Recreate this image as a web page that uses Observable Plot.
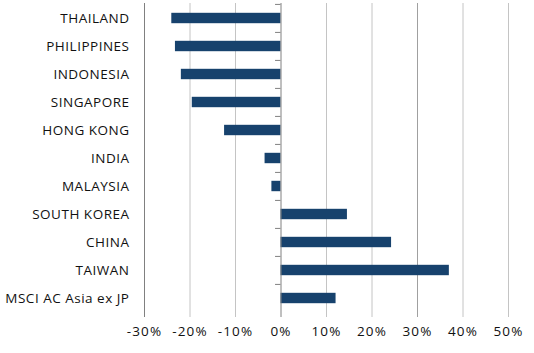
<!DOCTYPE html>
<html>
<head>
<meta charset="utf-8">
<script src="https://cdn.jsdelivr.net/npm/d3@7"></script>
<script src="https://cdn.jsdelivr.net/npm/@observablehq/plot@0.6"></script>
<style>
  html, body { margin: 0; padding: 0; background: #fff; }
  #chart svg { display: block; }
  #chart svg text { letter-spacing: 0.5px; }
  #chart svg g.xlab text { letter-spacing: 1.1px; }
</style>
</head>
<body>
<div id="chart"></div>
<script>
const categories = ["THAILAND", "PHILIPPINES", "INDONESIA", "SINGAPORE", "HONG KONG", "INDIA", "MALAYSIA", "SOUTH KOREA", "CHINA", "TAIWAN", "MSCI AC Asia ex JP"];
const values = [-24.0, -23.2, -21.9, -19.5, -12.4, -3.5, -2.0, 14.6, 24.3, 37.0, 12.1];
const xTicks = [-30, -20, -10, 0, 10, 20, 30, 40, 50];
const lightGrid = [-20, -10, 10, 20, 40, 50];
const darkGrid = [30];

const data = categories.map((c, i) => ({category: c, value: values[i]}));

const width = 534, height = 353;
const marginTop = 3, marginBottom = 40, marginLeft = 144, marginRight = 26;
const step = (height - marginTop - marginBottom) / categories.length;
const font = "'Open Sans', sans-serif";

const chart = Plot.plot({
  width, height, marginTop, marginBottom, marginLeft, marginRight,
  style: {fontFamily: font, fontSize: "13.5px", color: "#111", background: "#fff"},
  x: {domain: [-30, 50], axis: null},
  y: {domain: categories, padding: 0, axis: null},
  marks: [
    Plot.ruleX(lightGrid, {x: d => d, stroke: "#c4c4c4", strokeWidth: 1, insetBottom: -4}),
    Plot.ruleX(darkGrid, {x: d => d, stroke: "#a0a0a0", strokeWidth: 1, insetBottom: -4}),
    Plot.ruleX([-30], {x: d => d, stroke: "#808080", strokeWidth: 1, insetBottom: -4}),
    Plot.barX(data, {x: "value", y: "category", fill: "#17426d", insetTop: 8.8, insetBottom: 8.8}),
    Plot.ruleX([0], {x: d => d, stroke: "#808080", strokeWidth: 1, insetBottom: -4}),
    Plot.ruleY(categories, {y: d => d, x1: -1.2, x2: 0, dy: -step / 2, stroke: "#808080", strokeWidth: 1}),
    Plot.ruleY([0], {frameAnchor: "bottom", x1: -30, x2: 50, stroke: "#808080", strokeWidth: 1}),
    Plot.text(categories, {y: d => d, frameAnchor: "left", dx: -15, textAnchor: "end", fill: "#111", fontSize: 13.5}),
    Plot.text(xTicks, {x: d => d, frameAnchor: "bottom", dy: 22, text: d => d + "%", fill: "#111", fontSize: 13.5, className: "xlab"})
  ]
});
document.getElementById("chart").append(chart);
</script>
</body>
</html>
